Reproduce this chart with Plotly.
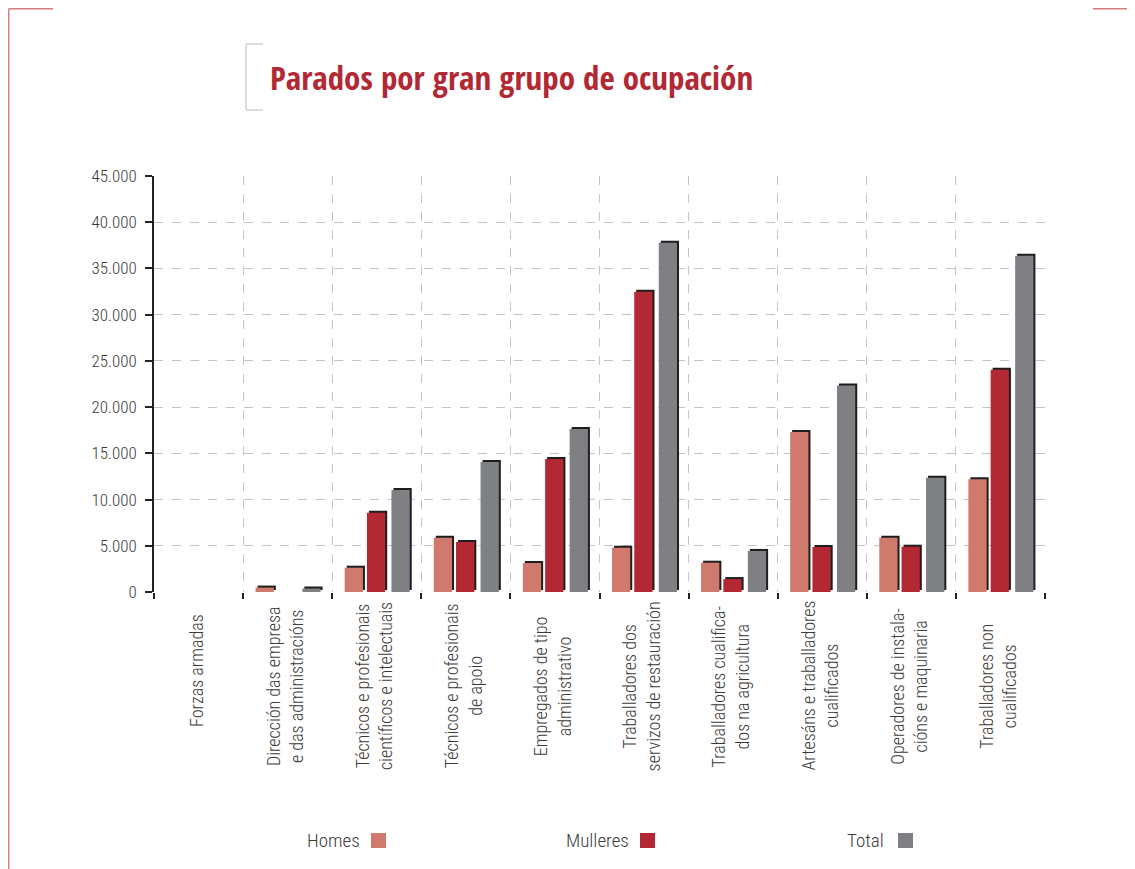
import plotly.graph_objects as go

categories = [
    "Forzas armadas",
    "Dirección das empresa<br>e das administracións",
    "Técnicos e profesionais<br>científicos e intelectuais",
    "Técnicos e profesionais<br>de apoio",
    "Empregados de tipo<br>administrativo",
    "Traballadores dos<br>servizos de restauración",
    "Traballadores cualifica-<br>dos na agricultura",
    "Artesáns e traballadores<br>cualificados",
    "Operadores de instala-<br>cións e maquinaria",
    "Traballadores non<br>cualificados",
]
homes = [0, 480, 2630, 5870, 3140, 4790, 3170, 17310, 5870, 12190]
mulleres = [0, 0, 8580, 5410, 14390, 32490, 1400, 4870, 4900, 24050]
total = [0, 380, 11030, 14060, 17630, 37790, 4440, 22340, 12360, 36380]
series_names = ["Homes", "Mulleres", "Total"]
series_colors = ["#D07A6E", "#B22833", "#7F8084"]

# page body has an 8px margin: figure is drawn from screen (8, 8)
OFF = 8
SW, SH = 1135, 869
W, H = SW - OFF, SH - OFF
L, R, T, B = 154, 1045, 176, 592   # plot area in screen px
px_per_unit = (B - T) / 45000.0
cat_px = (R - L) / len(categories)

def px_x(p):
    return (p - L) / (R - L)

def px_y(p):
    return (B - p) / (B - T)

xs = list(range(len(categories)))
bar_w = 0.205
offsets = [-0.36, -0.11, 0.165]
shadow_dx = 2.0 / cat_px
shadow_dy = 2.0 / px_per_unit

fig = go.Figure()
data = [homes, mulleres, total]
for vals, off in zip(data, offsets):
    fig.add_trace(go.Bar(
        x=xs, y=vals, base=[shadow_dy] * len(vals),
        width=bar_w, offset=off + shadow_dx,
        marker=dict(color="#1e1e1e", line=dict(width=0)),
        showlegend=False, hoverinfo="skip"))
for vals, off, name, col in zip(data, offsets, series_names, series_colors):
    fig.add_trace(go.Bar(
        x=xs, y=vals, width=bar_w, offset=off, name=name,
        marker=dict(color=col, line=dict(width=0)),
        showlegend=False))

font_fam = "Roboto Condensed, Liberation Sans, sans-serif"
txt_col = "#3a3a3a"
boundaries = [i - 0.5 for i in range(len(categories) + 1)]

fig.update_layout(
    width=W, height=H,
    margin=dict(l=L - OFF, r=SW - R, t=T - OFF, b=SH - B, pad=0),
    paper_bgcolor="white", plot_bgcolor="white",
    barmode="overlay",
    separators=",.",
    font=dict(family=font_fam, size=17, color=txt_col),
    xaxis=dict(
        range=[-0.5, len(categories) - 0.5],
        tickmode="array", tickvals=xs, ticktext=[""] * len(xs),
        ticks="", showgrid=False, zeroline=False, showline=False,
        minor=dict(tickmode="array", tickvals=boundaries, ticks="outside",
                   ticklen=6, tickcolor="#222222", tickwidth=1.5,
                   showgrid=True, gridcolor="#C4C4C4", griddash="dash",
                   gridwidth=1.2),
    ),
    yaxis=dict(
        range=[0, 45000], tickmode="array",
        tickvals=list(range(0, 45001, 5000)),
        tickformat=",d", ticks="outside", ticklen=7, tickcolor="#222222",
        tickwidth=1.5, ticklabelstandoff=5,
        showline=True, linecolor="#222222", linewidth=1.5,
        showgrid=True, gridcolor="#C4C4C4", griddash="dash", gridwidth=1.2,
        zeroline=False,
        tickfont=dict(family=font_fam, size=17, color=txt_col, weight=300),
    ),
)

# category labels, rotated, lines centred
label_center_y = [670] + [686] * (len(categories) - 1)
for i, (lab, cy) in enumerate(zip(categories, label_center_y)):
    fig.add_annotation(
        text=lab, xref="x", yref="paper", x=xs[i] - 0.03, y=px_y(cy),
        xanchor="center", yanchor="middle", textangle=-90, align="center",
        showarrow=False,
        font=dict(family=font_fam, size=18, color=txt_col, weight=300))

# title
fig.add_annotation(
    text="<b>Parados por gran grupo de ocupación</b>",
    xref="paper", yref="paper", x=px_x(268), y=px_y(78),
    xanchor="left", yanchor="middle", showarrow=False,
    font=dict(family="Open Sans Condensed, Roboto Condensed, sans-serif",
              size=33, color="#B22833"))

# decorations
gray = "#D0D0D0"
red = "#D97A7E"
shapes = [
    dict(x0=246, x1=246, y0=44, y1=110, color=gray),
    dict(x0=246, x1=263, y0=44, y1=44, color=gray),
    dict(x0=246, x1=263, y0=110, y1=110, color=gray),
    dict(x0=8.7, x1=8.7, y0=8.7, y1=869, color=red),
    dict(x0=8.7, x1=53, y0=8.7, y1=8.7, color=red),
    dict(x0=1093, x1=1135, y0=8.7, y1=8.7, color=red),
]
for s in shapes:
    fig.add_shape(type="line", xref="paper", yref="paper",
                  x0=px_x(s["x0"]), x1=px_x(s["x1"]),
                  y0=px_y(s["y0"]), y1=px_y(s["y1"]),
                  line=dict(color=s["color"], width=1.5))

# legend (text then square)
legend_pos = [(362, 371), (631, 640), (886, 898)]
for name, col, (tx, sx) in zip(series_names, series_colors, legend_pos):
    fig.add_annotation(text=name, xref="paper", yref="paper",
                       x=px_x(tx), y=px_y(840), xanchor="right", yanchor="middle",
                       showarrow=False,
                       font=dict(family=font_fam, size=19, color=txt_col, weight=300))
    fig.add_shape(type="rect", xref="paper", yref="paper",
                  x0=px_x(sx), x1=px_x(sx + 15), y0=px_y(833), y1=px_y(848),
                  fillcolor=col, line=dict(width=0))

fig.write_html("out.html")
